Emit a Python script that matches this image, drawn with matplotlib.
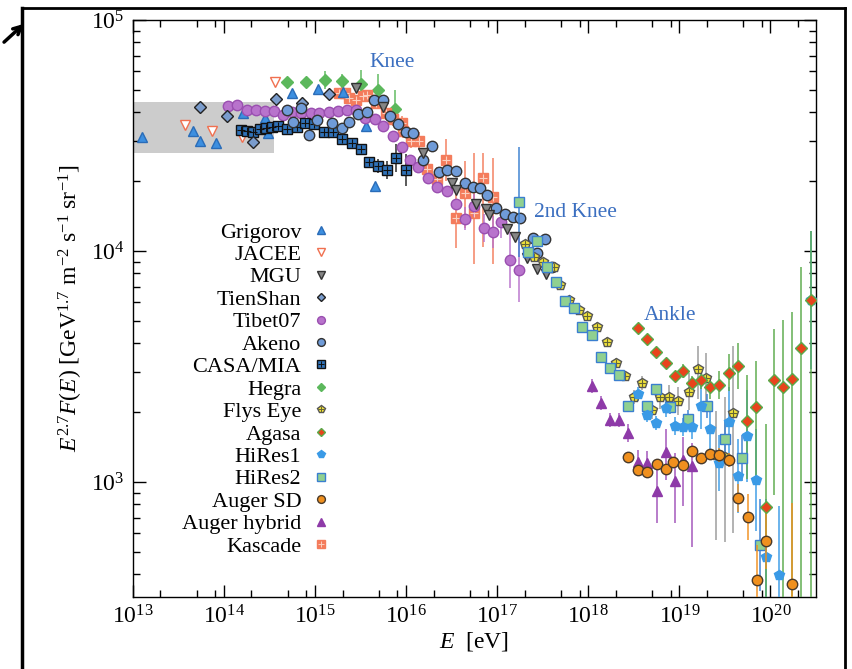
import numpy as np
import matplotlib
matplotlib.use('Agg')
import matplotlib.pyplot as plt
from matplotlib.lines import Line2D
from matplotlib.patches import FancyArrowPatch
from matplotlib.ticker import LogLocator, NullFormatter

plt.rcParams['font.family'] = 'serif'
plt.rcParams['font.serif'] = ['Liberation Serif', 'DejaVu Serif']
plt.rcParams['mathtext.fontset'] = 'custom'
plt.rcParams['mathtext.rm'] = 'Liberation Serif'
plt.rcParams['mathtext.it'] = 'Liberation Serif:italic'
plt.rcParams['mathtext.bf'] = 'Liberation Serif:bold'

# values: log10(E/eV) and log10(E^2.7 F), errors in dex
grig_lgE = [13.10, 13.66, 13.74, 13.91, 14.21, 14.45, 14.48, 14.75, 15.03, 15.31, 15.56, 15.66]
grig_lgF = [4.494, 4.519, 4.476, 4.468, 4.597, 4.576, 4.511, 4.684, 4.701, 4.688, 4.541, 4.281]

jacee_lgE = [13.57, 13.87, 14.20, 14.56]
jacee_lgF = [4.545, 4.519, 4.494, 4.732]

mgu_lgE = [15.45, 15.75, 16.18, 16.50, 16.55, 16.77, 16.88, 16.91, 17.11, 17.19, 17.33, 17.44, 17.53]
mgu_lgF = [4.706, 4.623, 4.424, 4.294, 4.264, 4.203, 4.182, 4.156, 4.095, 4.061, 3.970, 3.922, 3.900]

tien_lgE = [13.74, 14.03, 14.32, 14.57, 14.86, 15.15]
tien_lgF = [4.623, 4.584, 4.472, 4.658, 4.641, 4.680]

tibet_lgE = [14.04, 14.14, 14.25, 14.35, 14.45, 14.55, 14.65, 14.75, 14.85, 14.95, 15.04,
             15.15, 15.25, 15.35, 15.45, 15.55, 15.66, 15.75, 15.85, 15.95, 16.04, 16.13,
             16.24, 16.34, 16.45, 16.55, 16.65, 16.75, 16.85, 16.95, 17.04, 17.14, 17.24]
tibet_lgF = [4.628, 4.632, 4.610, 4.610, 4.606, 4.606, 4.589, 4.602, 4.597, 4.597, 4.597,
             4.602, 4.606, 4.610, 4.610, 4.576, 4.571, 4.541, 4.498, 4.450, 4.394, 4.364,
             4.316, 4.277, 4.260, 4.203, 4.139, 4.195, 4.100, 4.082, 4.126, 3.961, 3.918]
tibet_err = [0] * 26 + [0.05, 0.05, 0.06, 0.07, 0.07, 0.12, 0.14]

akeno_lgE = [14.69, 14.76, 14.85, 14.93, 15.02, 15.19, 15.29, 15.37, 15.47, 15.57, 15.65,
             15.74, 15.82, 15.91, 16.00, 16.08, 16.18, 16.28, 16.36, 16.45, 16.55, 16.65,
             16.73, 16.81, 16.89, 16.99, 17.08, 17.17, 17.25, 17.39, 17.44, 17.52, 17.60]
akeno_lgF = [4.610, 4.558, 4.619, 4.502, 4.567, 4.554, 4.532, 4.558, 4.593, 4.602, 4.654,
             4.654, 4.584, 4.550, 4.515, 4.511, 4.394, 4.455, 4.342, 4.351, 4.346, 4.294,
             4.277, 4.273, 4.242, 4.186, 4.160, 4.147, 4.143, 4.056, 3.991, 4.052, 3.931]

casa_lgE = [14.19, 14.25, 14.32, 14.40, 14.46, 14.53, 14.59, 14.69, 14.80, 14.89, 14.99,
            15.10, 15.20, 15.30, 15.40, 15.50, 15.59, 15.69, 15.79, 15.89, 16.00]
casa_lgF = [4.524, 4.519, 4.515, 4.528, 4.532, 4.537, 4.541, 4.528, 4.537, 4.554, 4.550,
            4.515, 4.515, 4.485, 4.468, 4.442, 4.385, 4.368, 4.351, 4.403, 4.351]
casa_err = [0] * 13 + [0.01, 0.01, 0.015, 0.02, 0.03, 0.04, 0.06, 0.07]

hegra_lgE = [14.69, 14.90, 15.11, 15.30, 15.50, 15.69, 15.88]
hegra_lgF = [4.732, 4.732, 4.740, 4.736, 4.723, 4.697, 4.615]
hegra_err = [0.02, 0.02, 0.04, 0.03, 0.06, 0.07, 0.08]

fly_lgE = [17.30, 17.40, 17.50, 17.62, 17.69, 17.79, 17.90, 17.99, 18.10, 18.20, 18.30, 18.40,
           18.50, 18.59, 18.70, 18.79, 18.89, 18.99, 19.10, 19.20, 19.29, 19.40, 19.50, 19.59]
fly_lgF = [4.030, 3.974, 3.952, 3.931, 3.853, 3.788, 3.745, 3.719, 3.671, 3.606, 3.515, 3.459,
           3.368, 3.429, 3.312, 3.368, 3.368, 3.351, 3.390, 3.489, 3.450, 3.117, 3.108, 3.299]
fly_lo = [0.01] * 8 + [0.02] * 4 + [0.03, 0.03, 0.04, 0.05, 0.05, 0.06, 0.08, 0.13, 0.11, 0.37, 0.37, 0.52]
fly_hi = [0.01] * 8 + [0.02] * 4 + [0.03, 0.03, 0.04, 0.05, 0.05, 0.06, 0.08, 0.10, 0.11, 0.19, 0.26, 0.29]

agasa_lgE = [18.54, 18.64, 18.74, 18.85, 18.95, 19.04, 19.14, 19.24, 19.34, 19.44,
             19.54, 19.64, 19.74, 19.84, 19.95, 20.04, 20.14, 20.24, 20.34, 20.45]
agasa_lgF = [3.667, 3.619, 3.563, 3.515, 3.459, 3.481, 3.429, 3.442, 3.411, 3.420,
             3.472, 3.502, 3.264, 3.325, 2.892, 3.442, 3.411, 3.446, 3.580, 3.788]
agasa_lo = [0.01, 0.01, 0.02, 0.02, 0.02, 0.03, 0.03, 0.04, 0.05, 0.06,
            0.08, 0.10, 0.25, 0.30, 0.70, 0.50, 1.0, 1.0, 1.2, 1.4]
agasa_hi = [0.01, 0.01, 0.02, 0.02, 0.02, 0.03, 0.03, 0.04, 0.05, 0.06,
            0.08, 0.10, 0.20, 0.20, 0.36, 0.22, 0.29, 0.29, 0.35, 0.30]

hires1_lgE = [18.54, 18.64, 18.74, 18.85, 18.95, 19.04, 19.14, 19.24, 19.34,
              19.44, 19.54, 19.64, 19.74, 19.84, 19.95, 20.09, 20.44]
hires1_lgF = [3.381, 3.290, 3.255, 3.320, 3.242, 3.238, 3.238, 3.329, 3.229,
              3.082, 3.260, 3.026, 3.199, 3.009, 2.675, 2.597, 3.788]
hires1_err = [0.03, 0.03, 0.03, 0.04, 0.04, 0.04, 0.05, 0.10, 0.10,
              0.12, 0.15, 0.16, 0.20, 0.22, 0.25, 0.30, 0.30]

hires2_lgE = [17.24, 17.34, 17.44, 17.55, 17.65, 17.74, 17.84, 17.93, 18.04, 18.14, 18.24,
              18.34, 18.44, 18.64, 18.74, 18.90, 19.09, 19.30, 19.50, 19.69, 19.89]
hires2_lgF = [4.212, 3.996, 4.043, 3.931, 3.866, 3.784, 3.753, 3.671, 3.636, 3.541, 3.494,
              3.463, 3.329, 3.329, 3.403, 3.325, 3.273, 3.329, 3.186, 3.104, 2.727]
hires2_err = [0.24] + [0.015] * 12 + [0.02, 0.02, 0.03, 0.04, 0.05, 0.08, 0.10, 0.20]

augsd_lgE = [18.44, 18.54, 18.64, 18.75, 18.85, 18.93, 19.04, 19.14, 19.24,
             19.34, 19.44, 19.54, 19.64, 19.75, 19.85, 19.95, 20.24]
augsd_lgF = [3.108, 3.052, 3.043, 3.078, 3.056, 3.087, 3.074, 3.134, 3.104,
             3.121, 3.117, 3.095, 2.931, 2.848, 2.576, 2.745, 2.558]
augsd_lo = [0.01] * 7 + [0.02, 0.02, 0.02, 0.03, 0.03, 0.06, 0.10, 0.20, 0.12, 0.15]
augsd_hi = [0.01] * 7 + [0.02, 0.02, 0.02, 0.03, 0.03, 0.06, 0.10, 0.15, 0.12, 0.35]

aughy_lgE = [18.04, 18.14, 18.24, 18.34, 18.44, 18.54, 18.64, 18.75, 18.85, 18.95, 19.04, 19.14]
aughy_lgF = [3.416, 3.342, 3.268, 3.268, 3.212, 3.087, 3.082, 2.961, 3.130, 3.004, 3.095, 3.069]
aughy_lo = [0.03, 0.03, 0.03, 0.03, 0.04, 0.05, 0.05, 0.14, 0.12, 0.18, 0.20, 0.35]
aughy_hi = [0.03, 0.03, 0.03, 0.03, 0.04, 0.05, 0.05, 0.10, 0.10, 0.12, 0.10, 0.10]

kasc_lgE = [15.26, 15.33, 15.37, 15.45, 15.53, 15.57, 15.67, 15.78, 15.86, 15.95, 15.97,
            16.05, 16.14, 16.23, 16.34, 16.44, 16.55, 16.65, 16.75, 16.84, 16.95]
kasc_lgF = [4.684, 4.684, 4.662, 4.654, 4.671, 4.675, 4.641, 4.597, 4.571, 4.554, 4.519,
            4.476, 4.476, 4.355, 4.312, 4.394, 4.143, 4.251, 4.165, 4.316, 4.234]
kasc_lo = [0.02] * 7 + [0.03] * 5 + [0.04, 0.05, 0.05, 0.09, 0.13, 0.15, 0.22, 0.30, 0.29]
kasc_hi = [0.02] * 7 + [0.03] * 5 + [0.04, 0.05, 0.05, 0.09, 0.13, 0.14, 0.26, 0.11, 0.17]

# direct-measurement band
band_E = [1e13, 3.5e14]
band_F = [2.65e4, 4.4e4]

fig = plt.figure(figsize=(8.52, 6.69), dpi=100)
ax = fig.add_axes([133 / 852, 1 - 597 / 669, (816 - 133) / 852, (597 - 20) / 669])
ax.set_xscale('log')
ax.set_yscale('log')


def series(lgE, lgF, fc, ec, mk, ms, z, lo=None, hi=None, ecol='gray', cross=None):
    lgE = np.array(lgE)
    lgF = np.array(lgF)
    E = 10 ** lgE
    F = 10 ** lgF
    if lo is not None:
        lo = np.array(lo)
        hi = lo if hi is None else np.array(hi)
        yerr = [F - 10 ** (lgF - lo), 10 ** (lgF + hi) - F]
        ax.errorbar(E, F, yerr=yerr, fmt='none', ecolor=ecol, elinewidth=1.4,
                    alpha=0.75, zorder=z - 0.5)
    ax.plot(E, F, ls='none', marker=mk, ms=ms, mfc=fc, mec=ec, mew=1.0, zorder=z)
    h = Line2D([], [], ls='none', marker=mk, ms=ms * 0.75, mfc=fc, mec=ec, mew=1.0)
    if cross is not None:
        ax.plot(E, F, ls='none', marker='+', ms=ms * 0.75, mec=cross, mew=0.8, zorder=z + 0.1)
        h = (h, Line2D([], [], ls='none', marker='+', ms=ms * 0.55, mec=cross, mew=0.7))
    return h


ax.fill_between(band_E, band_F[0], band_F[1], color='#cccccc', lw=0, zorder=0)

h_hegra = series(hegra_lgE, hegra_lgF, '#5cb85c', '#5cb85c', 'D', 6.0, 3, hegra_err, ecol='#5cb85c')
h_kasc = series(kasc_lgE, kasc_lgF, '#f47c5c', '#f47c5c', 's', 7.0, 3.2, kasc_lo, kasc_hi,
                ecol='#f47c5c', cross='#fbd0c0')
h_jacee = series(jacee_lgE, jacee_lgF, 'white', '#f07050', 'v', 7.5, 3.4)
h_grig = series(grig_lgE, grig_lgF, '#3d8fe0', '#2a6cb8', '^', 7.5, 3.6)
h_tibet = series(tibet_lgE, tibet_lgF, '#b873cc', '#9a4fb0', 'o', 7.5, 3.8, tibet_err, ecol='#b873cc')
h_casa = series(casa_lgE, casa_lgF, '#2f72b8', '#111111', 's', 7.0, 4.0, casa_err,
                ecol='#222222', cross='#111111')
h_tien = series(tien_lgE, tien_lgF, '#7a9ccc', '#222222', 'D', 6.0, 4.2)
h_akeno = series(akeno_lgE, akeno_lgF, '#6f9bd8', '#333333', 'o', 7.5, 4.4)
h_mgu = series(mgu_lgE, mgu_lgF, '#858585', '#333333', 'v', 7.0, 4.6)
h_fly = series(fly_lgE, fly_lgF, '#f2e33a', '#555555', 'p', 7.5, 4.8, fly_lo, fly_hi,
               ecol='#999999', cross='#666633')
h_hires2 = series(hires2_lgE, hires2_lgF, '#90d090', '#3a7fd0', 's', 7.0, 5.0, hires2_err,
                  ecol='#3a7fd0')
h_agasa = series(agasa_lgE, agasa_lgF, '#e8441c', '#5aaa4a', 'D', 6.0, 5.2, agasa_lo, agasa_hi,
                 ecol='#5aaa4a')
h_hires1 = series(hires1_lgE, hires1_lgF, '#3a9ae6', '#3a9ae6', 'p', 7.5, 5.1, hires1_err,
                  ecol='#3a9ae6')
h_aughy = series(aughy_lgE, aughy_lgF, '#8e3aa8', '#8e3aa8', '^', 7.5, 5.4, aughy_lo, aughy_hi,
                 ecol='#a050b8')
h_augsd = series(augsd_lgE, augsd_lgF, '#f0901e', '#4a3a2a', 'o', 7.5, 5.6, augsd_lo, augsd_hi,
                 ecol='#f0901e')

ax.set_xlim(1e13, 10 ** 20.5)
ax.set_ylim(10 ** 2.502, 1e5)

ax.xaxis.set_major_locator(LogLocator(base=10, numticks=20))
ax.xaxis.set_minor_locator(LogLocator(base=10, subs=(2, 5, 8), numticks=20))
ax.xaxis.set_minor_formatter(NullFormatter())
ax.yaxis.set_minor_locator(LogLocator(base=10, subs=np.arange(2, 10), numticks=20))
ax.yaxis.set_minor_formatter(NullFormatter())
ax.tick_params(which='both', direction='in', top=True, right=True, labelsize=17, width=1.0)
ax.tick_params(which='major', length=9, pad=6)
ax.tick_params(which='minor', length=5)
for s in ax.spines.values():
    s.set_linewidth(1.0)

ax.set_xlabel(r'$E$  [eV]', fontsize=17, labelpad=1)
ax.set_ylabel(r'$E^{2.7}F(E)$ [GeV$^{1.7}$ m$^{-2}$ s$^{-1}$ sr$^{-1}$]', fontsize=17, labelpad=4)

txt_col = '#3b6fc0'
ax.text(10 ** 15.85, 10 ** 4.818, 'Knee', color=txt_col, fontsize=15.5, ha='center', va='center')
ax.text(10 ** 17.86, 10 ** 4.165, '2nd Knee', color=txt_col, fontsize=15.5, ha='center', va='center')
ax.text(10 ** 18.90, 10 ** 3.719, 'Ankle', color=txt_col, fontsize=15.5, ha='center', va='center')

handles = [h_grig, h_jacee, h_mgu, h_tien, h_tibet, h_akeno, h_casa, h_hegra, h_fly,
           h_agasa, h_hires1, h_hires2, h_augsd, h_aughy, h_kasc]
labels = ['Grigorov', 'JACEE', 'MGU', 'TienShan', 'Tibet07', 'Akeno', 'CASA/MIA', 'Hegra',
          'Flys Eye', 'Agasa', 'HiRes1', 'HiRes2', 'Auger SD', 'Auger hybrid', 'Kascade']
ax.legend(handles, labels, loc='upper right', bbox_to_anchor=(0.289, 0.650), frameon=False,
          markerfirst=False, fontsize=16, handlelength=0.8, handletextpad=0.5,
          labelspacing=0.085, borderpad=0, borderaxespad=0)

# slide frame around the figure
fig.add_artist(Line2D([22 / 852, 22 / 852], [0, 1 - 8 / 669], color='black', lw=2.5))
fig.add_artist(Line2D([22 / 852, 845 / 852], [1 - 8 / 669, 1 - 8 / 669], color='black', lw=2.0))
fig.add_artist(Line2D([845 / 852, 845 / 852], [0, 1 - 8 / 669], color='black', lw=2.0))
fig.add_artist(FancyArrowPatch((2 / 852, 1 - 44 / 669), (26 / 852, 1 - 22 / 669),
                               transform=fig.transFigure, arrowstyle='->', mutation_scale=14,
                               lw=2.5, color='black'))

fig.savefig('out.png', dpi=100)
